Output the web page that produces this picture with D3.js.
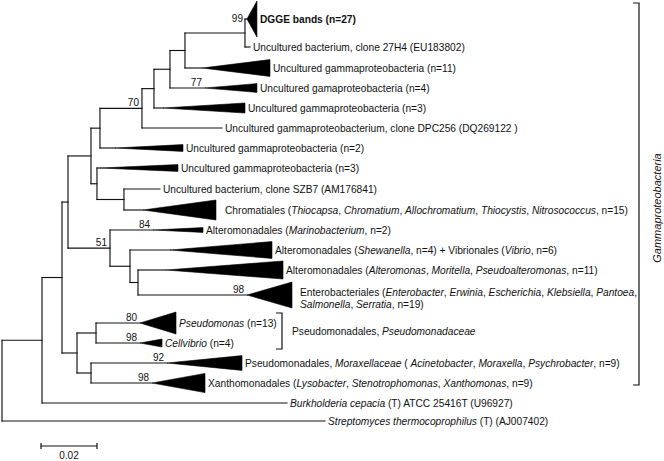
<!DOCTYPE html>
<html><head><meta charset="utf-8">
<script src="https://cdn.jsdelivr.net/npm/d3@7"></script>
<style>
body{margin:0;background:#fff}
svg{display:block}
text{font-family:"Liberation Sans",Arial,Helvetica,sans-serif;fill:#111}
</style>
</head><body><svg id="c" width="664" height="461"></svg>
<script>
// ---- tree topology: [node id, parent id, branch length (substitutions/site)] ----
const treeNodes = [
  ["root", null, 0],
  ["A", "root", 0.01429],
  ["B", "A", 0.00714],
  ["C", "B", 0.00214],
  ["D", "C", 0.00821],
  ["F", "D", 0.00321],
  ["H", "F", 0.01500],
  ["N4", "H", 0.00429],
  ["N3", "N4", 0.00571],
  ["N2", "N3", 0.00536],
  ["N1", "N2", 0.02143],
  ["DGGE", "N1", 0.00070],
  ["27H4", "N1", 0.00179],
  ["n11", "N2", 0.00607],
  ["n4", "N3", 0.01250],
  ["n3a", "N4", 0.00321],
  ["DPC", "H", 0.02857],
  ["n2", "F", 0.00536],
  ["G", "D", 0.00214],
  ["n3b", "G", 0.00107],
  ["L", "G", 0.00964],
  ["SZB7", "L", 0.01286],
  ["Chrom", "L", 0.00679],
  ["E", "C", 0.01500],
  ["Mar", "E", 0.01536],
  ["J", "E", 0.00714],
  ["Shew", "J", 0.01429],
  ["K", "J", 0.00286],
  ["Alt", "K", 0.01000],
  ["Ent", "K", 0.03893],
  ["P", "B", 0.00536],
  ["Q", "P", 0.00679],
  ["Pse", "Q", 0.01571],
  ["Cel", "Q", 0.01571],
  ["R", "P", 0.00500],
  ["Mor", "R", 0.02714],
  ["Xan", "R", 0.02179],
  ["Burk", "A", 0.08750],
  ["Strep", "root", 0.11536]
];

// ---- leaves (top to bottom), their row positions and labels ----
const leafIds = ["DGGE","27H4","n11","n4","n3a","DPC","n2","n3b","SZB7","Chrom","Mar","Shew","Alt","Ent","Pse","Cel","Mor","Xan","Burk","Strep"];
const leafRows = [-0.05,1.35,2.4,3.4,4.4,5.4,6.4,7.4,8.45,9.5,10.5,11.5,12.5,13.75,15.15,16.15,17.15,18.15,19.15,20.05];
const leafLabels = [
  "DGGE bands (n=27)",
  "Uncultured bacterium, clone 27H4 (EU183802)",
  "Uncultured gammaproteobacteria (n=11)",
  "Uncultured gamaproteobacteria (n=4)",
  "Uncultured gammaproteobacteria (n=3)",
  "Uncultured gammaproteobacterium, clone DPC256 (DQ269122 )",
  "Uncultured gammaproteobacteria (n=2)",
  "Uncultured gammaproteobacteria (n=3)",
  "Uncultured bacterium, clone SZB7 (AM176841)",
  "Chromatiales (*Thiocapsa*, *Chromatium*, *Allochromatium*, *Thiocystis*, *Nitrosococcus*, n=15)",
  "Alteromonadales (*Marinobacterium*, n=2)",
  "Alteromonadales (*Shewanella*, n=4) + Vibrionales (*Vibrio*, n=6)",
  "Alteromonadales (*Alteromonas*, *Moritella*, *Pseudoalteromonas*, n=11)",
  "Enterobacteriales (*Enterobacter*, *Erwinia*, *Escherichia*, *Klebsiella*, *Pantoea*,\n*Salmonella*, *Serratia*, n=19)",
  "*Pseudomonas* (n=13)",
  "*Cellvibrio* (n=4)",
  "Pseudomonadales, *Moraxellaceae* ( *Acinetobacter*, *Moraxella*, *Psychrobacter*, n=9)",
  "Xanthomonadales (*Lysobacter*, *Stenotrophomonas*, *Xanthomonas*, n=9)",
  "*Burkholderia cepacia* (T) ATCC 25416T (U96927)",
  "*Streptomyces thermocoprophilus* (T) (AJ007402)"
];
const boldLeaves = ["DGGE"];

// ---- collapsed clades: [leaf id, clade depth (subst./site), clade half-spread (rows)] ----
const collapsedClades = [
  ["DGGE", 0.00357, 0.90],
  ["n11", 0.02429, 0.42],
  ["n4", 0.01857, 0.22],
  ["n3a", 0.02929, 0.25],
  ["n2", 0.02429, 0.17],
  ["n3b", 0.02786, 0.17],
  ["Chrom", 0.02607, 0.50],
  ["Mar", 0.01786, 0.12],
  ["Shew", 0.03643, 0.42],
  ["Alt", 0.04179, 0.45],
  ["Ent", 0.01607, 0.65],
  ["Pse", 0.01286, 0.55],
  ["Cel", 0.00786, 0.20],
  ["Mor", 0.02679, 0.37],
  ["Xan", 0.01893, 0.48]
];

// ---- bootstrap support values ----
const bootstrapNodes = ["DGGE","n4","H","Mar","E","Ent","Pse","Cel","Mor","Xan"];
const bootstrapValues = [99, 77, 70, 84, 51, 98, 80, 98, 92, 98];

// ---- group brackets ----
const groupNames = ["Gammaproteobacteria", "Pseudomonadales, *Pseudomonadaceae*"];
const groupSpans = [["DGGE","Xan"], ["Pse","Cel"]];
const scaleBarValue = 0.02;

// =================== drawing ===================
const svg = d3.select("#c");
const x = d3.scaleLinear().domain([0, scaleBarValue]).range([2, 58]);
const y = d3.scaleLinear().domain([0, 1]).range([20, 40]);
const rowPx = v => y(v) - y(0);
const FS = 10.2;

const rowOf = new Map(leafIds.map((id, i) => [id, leafRows[i]]));
const labelOf = new Map(leafIds.map((id, i) => [id, leafLabels[i]]));
const cladeOf = new Map(collapsedClades.map(c => [c[0], {depth: c[1], spread: c[2]}]));

const root = d3.stratify().id(d => d[0]).parentId(d => d[1])(treeNodes);
root.eachBefore(n => { n.dist = n.parent ? n.parent.dist + n.data[2] : 0; });
root.eachAfter(n => {
  if (!n.children) n.py = y(rowOf.get(n.id));
  else {
    const ext = d3.extent(n.children, c => c.py);
    n.py = (ext[0] + ext[1]) / 2;
    n.ext = ext;
  }
});
const byId = new Map(root.descendants().map(n => [n.id, n]));

const g = svg.append("g");
const stroke = "#111", sw = 1.15;

// horizontal branches
g.selectAll("path.h").data(root.descendants().filter(n => n.parent)).join("path")
  .attr("class", "h")
  .attr("d", n => `M${x(n.parent.dist)},${n.py}H${x(n.dist)}`)
  .attr("fill", "none").attr("stroke", stroke).attr("stroke-width", sw)
  .attr("stroke-linecap", "square");
// vertical connectors
g.selectAll("path.v").data(root.descendants().filter(n => n.children)).join("path")
  .attr("class", "v")
  .attr("d", n => `M${x(n.dist)},${n.ext[0]}V${n.ext[1]}`)
  .attr("fill", "none").attr("stroke", stroke).attr("stroke-width", sw)
  .attr("stroke-linecap", "square");
// collapsed clade triangles
g.selectAll("path.tri").data(collapsedClades).join("path")
  .attr("class", "tri")
  .attr("d", c => {
    const n = byId.get(c[0]);
    const x0 = x(n.dist), x1 = x(n.dist + c[1]), s = rowPx(c[2]);
    return `M${x0},${n.py}L${x1},${n.py - s}V${n.py + s}Z`;
  })
  .attr("fill", "#000").attr("stroke", "#000").attr("stroke-width", 0.6)
  .attr("stroke-linejoin", "miter");

// rich text helper
function addRich(sel, str) {
  str.split(/(\*[^*]+\*)/).filter(s => s.length).forEach(s => {
    const it = s.startsWith("*");
    sel.append("tspan").attr("font-style", it ? "italic" : "normal")
      .text(it ? s.slice(1, -1) : s);
  });
}

// leaf labels
const extraGap = {Chrom: 6, Ent: 5};
leafIds.forEach(id => {
  const n = byId.get(id);
  const c = cladeOf.get(id);
  const xe = c ? x(n.dist + c.depth) : x(n.dist);
  const lx = xe + 3 + (extraGap[id] || 0);
  const lines = labelOf.get(id).split("\n");
  lines.forEach((ln, i) => {
    const off = lines.length > 1 ? (i === 0 ? -3 : 9) : 0;
    const t = g.append("text").attr("x", lx).attr("y", n.py + off).attr("dy", "0.36em")
      .attr("font-size", FS)
      .attr("font-weight", boldLeaves.includes(id) ? "bold" : "normal");
    addRich(t, ln);
  });
});

// bootstrap values
bootstrapNodes.forEach((id, i) => {
  const n = byId.get(id);
  let tx = x(n.dist) - 3, ty = n.py - 2;
  if (id === "DGGE") { tx = x(n.parent.dist) - 2; ty = n.py + 3; }
  g.append("text").attr("x", tx).attr("y", ty).attr("text-anchor", "end")
    .attr("font-size", 10).text(bootstrapValues[i]);
});

// group brackets
// Gammaproteobacteria (outer bracket on the right)
{
  const top = 3, bot = byId.get(groupSpans[0][1]).py + 2;
  const bx = 639;
  g.append("path").attr("d", `M${bx - 6},${top}H${bx}V${bot}H${bx - 6}`)
    .attr("fill", "none").attr("stroke", stroke).attr("stroke-width", 1.2);
  g.append("text").attr("transform", `translate(${bx + 22},${(top + bot) / 2 + 14}) rotate(-90)`)
    .attr("text-anchor", "middle").attr("font-size", 11).attr("font-style", "italic")
    .text(groupNames[0]);
}
// Pseudomonadaceae bracket
{
  const a = byId.get(groupSpans[1][0]).py - 10, b = byId.get(groupSpans[1][1]).py + 6;
  const bx = 282;
  g.append("path").attr("d", `M${bx - 6},${a}H${bx}V${b}H${bx - 6}`)
    .attr("fill", "none").attr("stroke", stroke).attr("stroke-width", 1.2);
  const t = g.append("text").attr("x", bx + 10).attr("y", (a + b) / 2).attr("dy", "0.36em")
    .attr("font-size", FS);
  addRich(t, groupNames[1]);
}

// scale bar
{
  const x0 = 41, x1 = x0 + (x(scaleBarValue) - x(0)), yb = 446;
  g.append("path").attr("d", `M${x0},${yb - 3}V${yb + 3}M${x0},${yb}H${x1}M${x1},${yb - 3}V${yb + 3}`)
    .attr("fill", "none").attr("stroke", stroke).attr("stroke-width", 1.2);
  g.append("text").attr("x", (x0 + x1) / 2).attr("y", yb + 13)
    .attr("text-anchor", "middle").attr("font-size", 10).text(d3.format(".2f")(scaleBarValue));
}
</script>
</body></html>
